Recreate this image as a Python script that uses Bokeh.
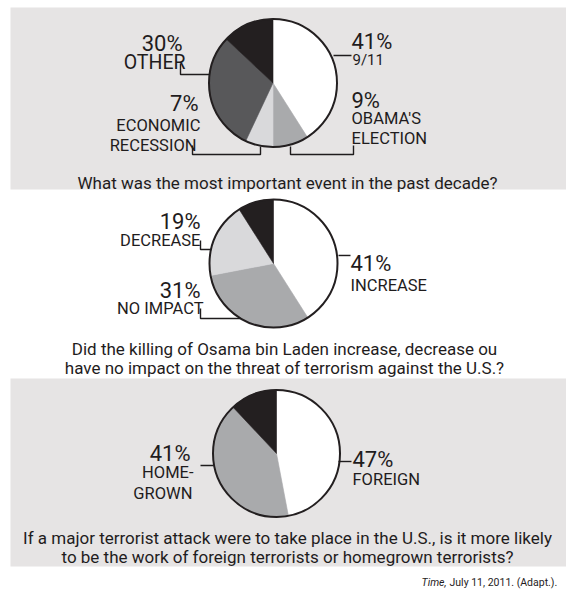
import math
from bokeh.plotting import figure
from bokeh.models import Range1d, ColumnDataSource
from bokeh.core.properties import value
from bokeh.embed import file_html
from bokeh.resources import INLINE

W, H = 566, 595

# ---------------- data ----------------
q1_question = ["What was the most important event in the past decade?"]
q1_labels = ["9/11", "OBAMA'S\nELECTION", "ECONOMIC\nRECESSION", "OTHER", ""]
q1_values = [41, 9, 7, 30, 13]

q2_question = ["Did the killing of Osama bin Laden increase, decrease ou",
               "have no impact on the threat of terrorism against the U.S.?"]
q2_labels = ["INCREASE", "NO IMPACT", "DECREASE", ""]
q2_values = [41, 31, 19, 9]

q3_question = ["If a major terrorist attack were to take place in the U.S., is it more likely",
               "to be the work of foreign terrorists or homegrown terrorists?"]
q3_labels = ["FOREIGN", "HOME-\nGROWN", ""]
q3_values = [47, 41, 12]

source_italic = "Time,"
source_rest = "July 11, 2011. (Adapt.)."

# ---------------- styles ----------------
WHITE, MID, LIGHT, DARK, BLACK = "#ffffff", "#a9aaac", "#d9d9db", "#58585a", "#231f20"
q1_colors = [WHITE, MID, LIGHT, DARK, BLACK]
q2_colors = [WHITE, MID, LIGHT, BLACK]
q3_colors = [WHITE, MID, BLACK]
BG = "#e6e4e4"
INK = "#1f1c1d"
FONT = value("Roboto")

def Y(y):
    return H - y

p = figure(width=W, height=H, x_range=Range1d(0, W), y_range=Range1d(0, H),
           output_backend="svg", toolbar_location=None, min_border=0)
p.axis.visible = False
p.grid.visible = False
p.outline_line_color = None
p.background_fill_color = "white"
p.border_fill_color = "white"

# panel backgrounds
p.quad(left=[10, 10], right=[W, W], top=[Y(7), Y(378)], bottom=[Y(189), Y(566)],
       fill_color=BG, line_color=None)

def pie(cx, cy, r, vals, colors):
    tot = float(sum(vals))
    cum = [0.0]
    for v in vals:
        cum.append(cum[-1] + v / tot)
    starts = [math.pi / 2 - 2 * math.pi * cum[i + 1] for i in range(len(vals))]
    ends = [math.pi / 2 - 2 * math.pi * cum[i] for i in range(len(vals))]
    src = ColumnDataSource(dict(x=[cx] * len(vals), y=[Y(cy)] * len(vals),
                                s=starts, e=ends, c=colors))
    p.wedge(x="x", y="y", radius=r, start_angle="s", end_angle="e", direction="anticlock",
            fill_color="c", line_color="c", line_width=0.6, source=src)
    p.circle(x=[cx], y=[Y(cy)], radius=r, fill_color=None, line_color=BLACK, line_width=2)

pie(272.5, 82.5, 64, q1_values, q1_colors)
pie(273, 263, 64, q2_values, q2_colors)
pie(276, 453, 63.5, q3_values, q3_colors)

# leader lines
legs = [
    ([333, 351], [55, 55]),
    ([180, 180, 209], [63, 74, 74]),
    ([192, 192, 260, 260], [145, 154, 154, 146]),
    ([290, 290, 353, 353], [146, 154, 154, 145]),
    ([200, 200, 211], [240, 249, 249]),
    ([200, 200, 240], [308, 318, 318]),
    ([338, 350], [255, 255]),
    ([200, 213], [465, 465]),
    ([338, 351], [461, 461]),
]
p.multi_line(xs=[l[0] for l in legs], ys=[[Y(v) for v in l[1]] for l in legs],
             line_color=INK, line_width=1.4)

def txt(x, y, t, size, align, style="normal"):
    p.text(x=[x], y=[Y(y)], text=[t], text_align=align, text_baseline="alphabetic",
           text_font=FONT, text_font_size=value(f"{size}px"), text_color=INK,
           text_font_style=style)

PCT = 22
LAB = 16.5
Q = 17
# panel 1
txt(351, 41, f"{q1_values[0]}%", PCT, "left")
txt(352, 59, q1_labels[0], 15, "left")
txt(351, 100, f"{q1_values[1]}%", PCT, "left")
for i, ln in enumerate(q1_labels[1].split("\n")):
    txt(351, 118 + 20 * i, ln, LAB, "left")
txt(198, 103, f"{q1_values[2]}%", PCT, "right")
for i, ln in enumerate(q1_labels[2].split("\n")):
    txt(200 - 4 * i, 125 + 20 * i, ln, LAB, "right")
txt(182, 43, f"{q1_values[3]}%", PCT, "right")
txt(185, 62, q1_labels[3], 19.5, "right")
txt(287, 182, q1_question[0], Q, "center")

# panel 2
txt(350, 263, f"{q2_values[0]}%", PCT, "left")
txt(350, 285, q2_labels[0], LAB, "left")
txt(200, 290, f"{q2_values[1]}%", PCT, "right")
txt(203, 308, q2_labels[1], LAB, "right")
txt(200, 221, f"{q2_values[2]}%", PCT, "right")
txt(200, 240, q2_labels[2], LAB, "right")
txt(284, 348, q2_question[0], Q, "center")
txt(284, 367, q2_question[1], Q, "center")

# panel 3
txt(352, 459, f"{q3_values[0]}%", PCT, "left")
txt(352, 479, q3_labels[0], LAB, "left")
txt(190, 453, f"{q3_values[1]}%", PCT, "right")
h3 = q3_labels[1].split("\n")
txt(193, 472, h3[0], LAB, "right")
txt(192, 493, h3[1], LAB, "right")
txt(287, 537, q3_question[0], Q, "center")
txt(287, 556, q3_question[1], Q, "center")

# source
txt(446, 582, source_italic, 10.5, "right", "italic")
txt(449, 582, source_rest, 10.5, "left")

open("out.html", "w").write(file_html(p, INLINE))
